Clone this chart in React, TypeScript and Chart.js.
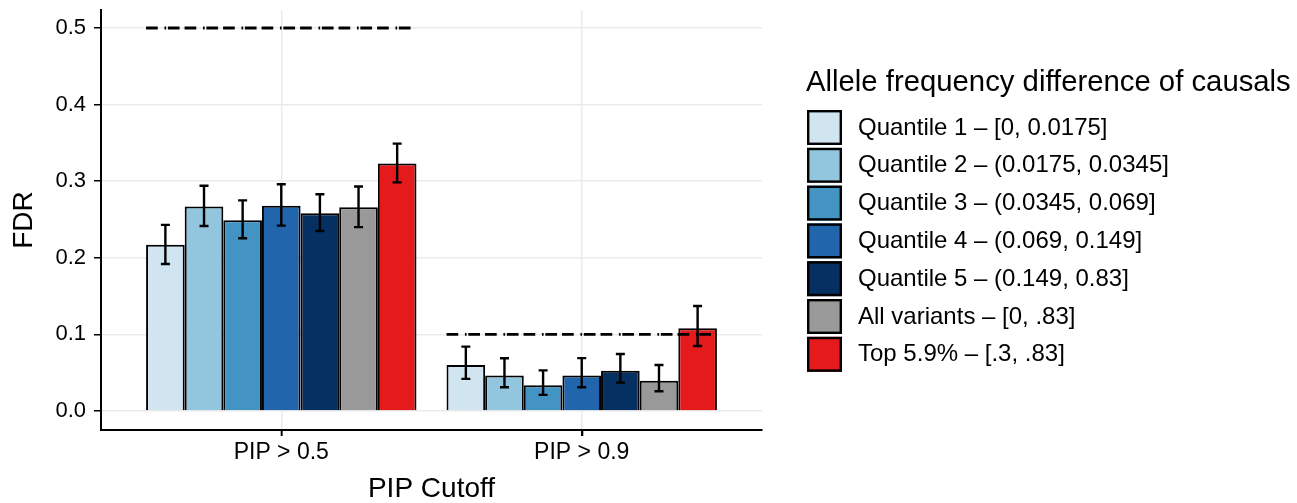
import React, { useEffect, useRef } from 'react';
import { Chart, registerables } from 'chart.js';

Chart.register(...registerables);

const categories = ['PIP > 0.5', 'PIP > 0.9'];
const seriesLabels = [
  'Quantile 1 – [0, 0.0175]',
  'Quantile 2 – (0.0175, 0.0345]',
  'Quantile 3 – (0.0345, 0.069]',
  'Quantile 4 – (0.069, 0.149]',
  'Quantile 5 – (0.149, 0.83]',
  'All variants – [0, .83]',
  'Top 5.9% – [.3, .83]',
];
const seriesColors = ['#d1e5f0', '#92c5de', '#4393c3', '#2166ac', '#053061', '#999999', '#e41a1c'];

const fdrPip05 = [0.217, 0.267, 0.249, 0.268, 0.258, 0.266, 0.323];
const lowPip05 = [0.192, 0.2415, 0.2255, 0.242, 0.235, 0.24, 0.2985];
const highPip05 = [0.243, 0.294, 0.275, 0.296, 0.283, 0.293, 0.349];

const fdrPip09 = [0.06, 0.0465, 0.0335, 0.0465, 0.0526, 0.0396, 0.108];
const lowPip09 = [0.042, 0.031, 0.021, 0.031, 0.037, 0.0257, 0.0849];
const highPip09 = [0.084, 0.0688, 0.053, 0.069, 0.0744, 0.06, 0.137];

const targetFdr = [0.5, 0.1];
const yTicks = [0, 0.1, 0.2, 0.3, 0.4, 0.5];
const legendTitle = 'Allele frequency difference of causals';

const FONT = '"Liberation Sans", Arial, Helvetica, sans-serif';

const fdrByGroup = [fdrPip05, fdrPip09];
const lowByGroup = [lowPip05, lowPip09];
const highByGroup = [highPip05, highPip09];

const errorBarPlugin = {
  id: 'errorBars',
  afterDatasetsDraw(chart: any) {
    const ctx = chart.ctx;
    const ys = chart.scales.y;
    ctx.save();
    ctx.strokeStyle = '#000';
    ctx.lineWidth = 2.4;
    chart.data.datasets.forEach((_ds: any, di: number) => {
      const meta = chart.getDatasetMeta(di);
      meta.data.forEach((bar: any, gi: number) => {
        const x = bar.x;
        const yLo = ys.getPixelForValue(lowByGroup[gi][di]);
        const yHi = ys.getPixelForValue(highByGroup[gi][di]);
        const cap = 4.5;
        ctx.beginPath();
        ctx.moveTo(x, yLo);
        ctx.lineTo(x, yHi);
        ctx.moveTo(x - cap, yLo);
        ctx.lineTo(x + cap, yLo);
        ctx.moveTo(x - cap, yHi);
        ctx.lineTo(x + cap, yHi);
        ctx.stroke();
      });
    });
    ctx.restore();
  },
};

const thresholdPlugin = {
  id: 'thresholds',
  afterDatasetsDraw(chart: any) {
    const ctx = chart.ctx;
    const xs = chart.scales.x;
    const ys = chart.scales.y;
    ctx.save();
    ctx.strokeStyle = '#000';
    ctx.lineWidth = 2.8;
    ctx.setLineDash([11.7, 6.7, 1.7, 1.7, 11.7, 5]);
    targetFdr.forEach((t, gi) => {
      const y = ys.getPixelForValue(t);
      const x1 = xs.getPixelForValue(gi + 1 - 0.45);
      const x2 = xs.getPixelForValue(gi + 1 + 0.44);
      ctx.beginPath();
      ctx.moveTo(x1, y);
      ctx.lineTo(x2, y);
      ctx.stroke();
    });
    ctx.restore();
  },
};

const xTickMarkPlugin = {
  id: 'xTickMarks',
  afterDraw(chart: any) {
    const ctx = chart.ctx;
    const xs = chart.scales.x;
    const bottom = chart.chartArea.bottom;
    ctx.save();
    ctx.strokeStyle = '#000';
    ctx.lineWidth = 1.6;
    xs.ticks.forEach((t: any) => {
      const x = Math.round(xs.getPixelForValue(t.value)) + 0.5;
      ctx.beginPath();
      ctx.moveTo(x, bottom);
      ctx.lineTo(x, bottom + 6);
      ctx.stroke();
    });
    ctx.restore();
  },
};

const legendPlugin = {
  id: 'customLegend',
  afterDraw(chart: any) {
    const ctx = chart.ctx;
    ctx.save();
    ctx.fillStyle = '#000';
    ctx.textAlign = 'left';
    ctx.textBaseline = 'alphabetic';
    ctx.font = `29.3px ${FONT}`;
    ctx.fillText(legendTitle, 806, 91);
    ctx.font = `24px ${FONT}`;
    ctx.textBaseline = 'middle';
    chart.data.datasets.forEach((ds: any, i: number) => {
      const top = 110 + i * 37.8;
      ctx.fillStyle = ds.backgroundColor;
      ctx.fillRect(807, top, 35, 35);
      ctx.strokeStyle = '#000';
      ctx.lineWidth = 2.4;
      ctx.strokeRect(808.2, top + 1.2, 32.6, 32.6);
      ctx.fillStyle = '#000';
      ctx.fillText(ds.label, 858, top + 18);
    });
    ctx.restore();
  },
};

export default function App() {
  const canvasRef = useRef<HTMLCanvasElement | null>(null);

  useEffect(() => {
    document.body.style.margin = '0';
    const canvas = canvasRef.current;
    if (!canvas) return;
    const datasets = seriesLabels.map((label, si) => ({
      label,
      data: categories.map((_c, gi) => ({ x: gi + 1, y: fdrByGroup[gi][si] })),
      backgroundColor: seriesColors[si],
      borderColor: '#000',
      borderWidth: 2,
      categoryPercentage: 0.9,
      barPercentage: 1.0,
    }));
    const chart = new Chart(canvas, {
      type: 'bar',
      data: { datasets },
      plugins: [errorBarPlugin, thresholdPlugin, xTickMarkPlugin, legendPlugin],
      options: {
        animation: false,
        responsive: false,
        maintainAspectRatio: false,
        layout: { padding: { left: 0, top: 10, right: 535, bottom: 0 } },
        plugins: {
          legend: { display: false },
          tooltip: { enabled: false },
          title: { display: false },
        },
        scales: {
          x: {
            type: 'linear',
            min: 0.4,
            max: 2.6,
            offset: false,
            afterBuildTicks: (scale: any) => {
              scale.ticks = categories.map((_c, i) => ({ value: i + 1 }));
            },
            afterFit: (scale: any) => {
              scale.height = 73;
              scale.paddingLeft = 0;
              scale.paddingRight = 0;
            },
            ticks: {
              callback: (v: any) => categories[Math.round(Number(v)) - 1] ?? '',
              color: '#000',
              font: { family: FONT, size: 23 },
              padding: 3,
              maxRotation: 0,
              autoSkip: false,
            },
            grid: {
              offset: false,
              color: '#ebebeb',
              lineWidth: 1.5,
              tickColor: '#000',
              tickWidth: 1.5,
              tickLength: 6,
              drawTicks: true,
            },
            border: { display: true, color: '#000', width: 2 },
            title: {
              display: true,
              text: 'PIP Cutoff',
              color: '#000',
              font: { family: FONT, size: 28, lineHeight: 1.0 },
              padding: { top: 0, bottom: 0 },
            },
          },
          y: {
            type: 'linear',
            min: -0.0248,
            max: 0.5235,
            afterBuildTicks: (scale: any) => {
              scale.ticks = yTicks.map((v) => ({ value: v }));
            },
            afterFit: (scale: any) => {
              scale.width = 101;
              scale.paddingTop = 0;
              scale.paddingBottom = 0;
            },
            ticks: {
              callback: (v: any) => Number(v).toFixed(1),
              color: '#000',
              font: { family: FONT, size: 22 },
              padding: 8,
            },
            grid: {
              color: '#ebebeb',
              lineWidth: 1.5,
              tickColor: '#000',
              tickWidth: 1.5,
              tickLength: 7,
              drawTicks: true,
            },
            border: { display: true, color: '#000', width: 2 },
            title: {
              display: true,
              text: 'FDR',
              color: '#000',
              font: { family: FONT, size: 28, lineHeight: 1.2 },
              padding: { top: 7, bottom: 0 },
            },
          },
        },
      } as any,
    });
    return () => {
      chart.destroy();
    };
  }, []);

  return (
    <div style={{ position: 'fixed', left: 0, top: 0, width: 1297, height: 503, background: '#fff' }}>
      <canvas ref={canvasRef} width={1297} height={503} style={{ width: 1297, height: 503, display: 'block' }} />
    </div>
  );
}
